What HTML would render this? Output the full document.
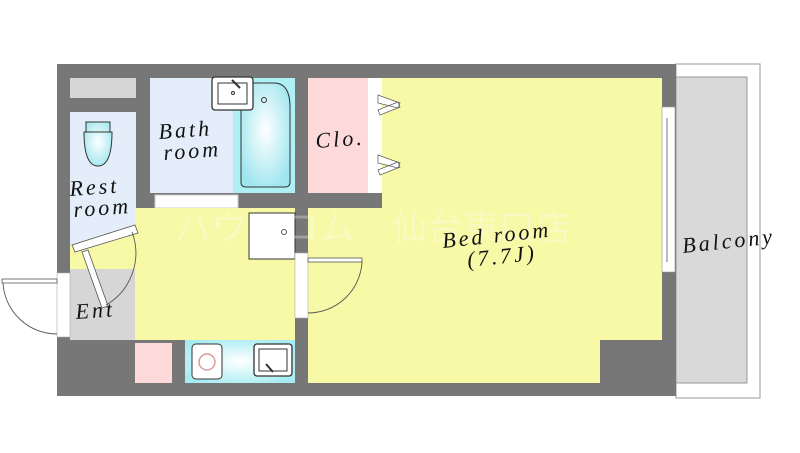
<!DOCTYPE html>
<html><head><meta charset="utf-8"><style>
html,body{margin:0;padding:0;background:#fff;width:800px;height:453px;overflow:hidden}
svg{display:block}
text{font-family:"Liberation Serif",serif;font-style:italic;fill:#111;letter-spacing:3px}
</style></head><body>
<svg width="800" height="453" viewBox="0 0 800 453" xmlns="http://www.w3.org/2000/svg">
<defs>
<radialGradient id="cy" cx="50%" cy="50%" r="60%"><stop offset="0" stop-color="#fff"/><stop offset="1" stop-color="#a6ecf2"/></radialGradient>
<radialGradient id="tb" cx="50%" cy="45%" r="60%"><stop offset="0" stop-color="#fff"/><stop offset="1" stop-color="#9fe6ef"/></radialGradient>
</defs>
<rect x="676" y="64" width="84" height="334" fill="#fff" stroke="#aaa" stroke-width="1.2"/>
<rect x="676" y="77" width="71" height="306" fill="#d9d9d9" stroke="#999" stroke-width="1"/>
<rect x="57" y="64" width="619" height="332" fill="#777"/>
<rect x="70" y="78" width="66" height="20" fill="#d6d6d6"/>
<polygon points="70,112 136,112 136,225 70,245" fill="#e3eefa"/>
<path d="M86,122 h24 v10 h-24z M84,132 h28 q0,34 -14,34 q-14,0 -14,-34z" fill="url(#tb)" stroke="#333" stroke-width="1"/>
<rect x="150" y="78" width="83" height="115" fill="#e3eefa"/>
<rect x="233" y="78" width="62" height="115" fill="#aef0f5"/>
<path d="M241,83 h33 q16,0 16,24 v75 q0,5 -5,5 h-39 q-5,0 -5,-5z" fill="url(#tb)" stroke="#333" stroke-width="1"/>
<circle cx="264" cy="100" r="2.5" fill="none" stroke="#333"/>
<rect x="212" y="77" width="41" height="33" rx="3" fill="#fff" stroke="#333" stroke-width="1.3"/>
<rect x="218" y="83" width="29" height="21" fill="#fff" stroke="#333" stroke-width="1"/>
<line x1="232" y1="80" x2="240" y2="88" stroke="#333" stroke-width="2"/>
<circle cx="233" cy="93" r="1.5" fill="none" stroke="#333"/>
<rect x="155" y="195" width="83" height="13" fill="#fff" stroke="#ccc"/>
<rect x="308" y="78" width="60" height="115" fill="#fdd9d9"/>
<rect x="368" y="78" width="14" height="115" fill="#fff"/>
<polygon points="308,208 382,208 382,78 662,78 662,340 600,340 600,383 308,383" fill="#f7f9a6"/>
<path d="M378,95 l22,8 -2,5 -20,-5z M378,110 l20,-8 2,5 -20,8z M378,155 l22,8 -2,5 -20,-5z M378,170 l20,-8 2,5 -20,8z" fill="#fff" stroke="#555" stroke-width="0.7"/>
<rect x="662" y="107" width="13" height="165" fill="#fff" stroke="#999" stroke-width="0.6"/>
<line x1="667" y1="118" x2="667" y2="262" stroke="#555" stroke-width="0.8"/>
<rect x="135" y="208" width="160" height="132" fill="#f7f9a6"/>
<polygon points="70,245 136,225 150,210 150,270 70,270" fill="#f7f9a6"/>
<rect x="70" y="269" width="65" height="71" fill="#d6d6d6"/>
<rect x="57" y="273" width="13" height="64" fill="#fff" stroke="#aaa" stroke-width="0.6"/>
<rect x="2" y="279" width="55" height="4" fill="#fff" stroke="#555" stroke-width="0.8"/>
<path d="M3,283 A54,54 0 0 0 57,334" fill="none" stroke="#555" stroke-width="0.9"/>
<polygon points="72,245 135,225 138,233 75,252" fill="#fff" stroke="#555" stroke-width="0.8"/>
<polygon points="82,252 88,250 108,306 102,308" fill="#fff" stroke="#555" stroke-width="0.8"/>
<path d="M132,232 A60,60 0 0 1 106,305" fill="none" stroke="#555" stroke-width="0.9"/>
<rect x="249" y="213" width="46" height="46" fill="#fff" stroke="#333" stroke-width="1"/>
<circle cx="284" cy="232" r="2.5" fill="none" stroke="#555"/>
<rect x="295" y="253" width="13" height="65" fill="#fff" stroke="#aaa" stroke-width="0.6"/>
<rect x="308" y="258" width="54" height="4" fill="#fff" stroke="#555" stroke-width="0.8"/>
<path d="M362,262 A54,54 0 0 1 308,313" fill="none" stroke="#555" stroke-width="0.9"/>
<rect x="135" y="343" width="37" height="40" fill="#fdd9d9"/>
<rect x="185" y="340" width="110" height="43" fill="url(#cy)"/>
<rect x="192" y="344" width="30" height="35" rx="4" fill="#fff" stroke="#333"/>
<circle cx="207" cy="362" r="8" fill="none" stroke="#d99" stroke-width="1.5"/>
<rect x="254" y="344" width="38" height="32" rx="3" fill="#fff" stroke="#333" stroke-width="1.3"/>
<rect x="259" y="349" width="28" height="22" fill="#fff" stroke="#333"/>
<line x1="266" y1="364" x2="273" y2="372" stroke="#333" stroke-width="2"/>
<text x="175" y="240" font-size="36" style="font-style:normal;fill:#fff;opacity:0.3;letter-spacing:0;font-family:'Liberation Sans','Noto Sans CJK JP',sans-serif">ハウ　コム　仙台東口店</text>
<text x="159" y="139" font-size="22" transform="rotate(-4 159 139)">Bath</text>
<text x="164" y="160" font-size="22" transform="rotate(-4 164 160)">room</text>
<text x="70" y="196" font-size="22" transform="rotate(-4 70 196)">Rest</text>
<text x="74" y="217" font-size="22" transform="rotate(-4 74 217)">room</text>
<text x="76" y="319" font-size="22" transform="rotate(-4 76 319)">Ent</text>
<text x="316" y="148" font-size="22" transform="rotate(-4 316 148)">Clo.</text>
<text x="443" y="248" font-size="22" transform="rotate(-6 443 248)">Bed room</text>
<text x="468" y="267" font-size="22" transform="rotate(-6 468 267)">(7.7J)</text>
<text x="683" y="253" font-size="22" transform="rotate(-6 683 253)">Balcony</text>
</svg>
</body></html>
